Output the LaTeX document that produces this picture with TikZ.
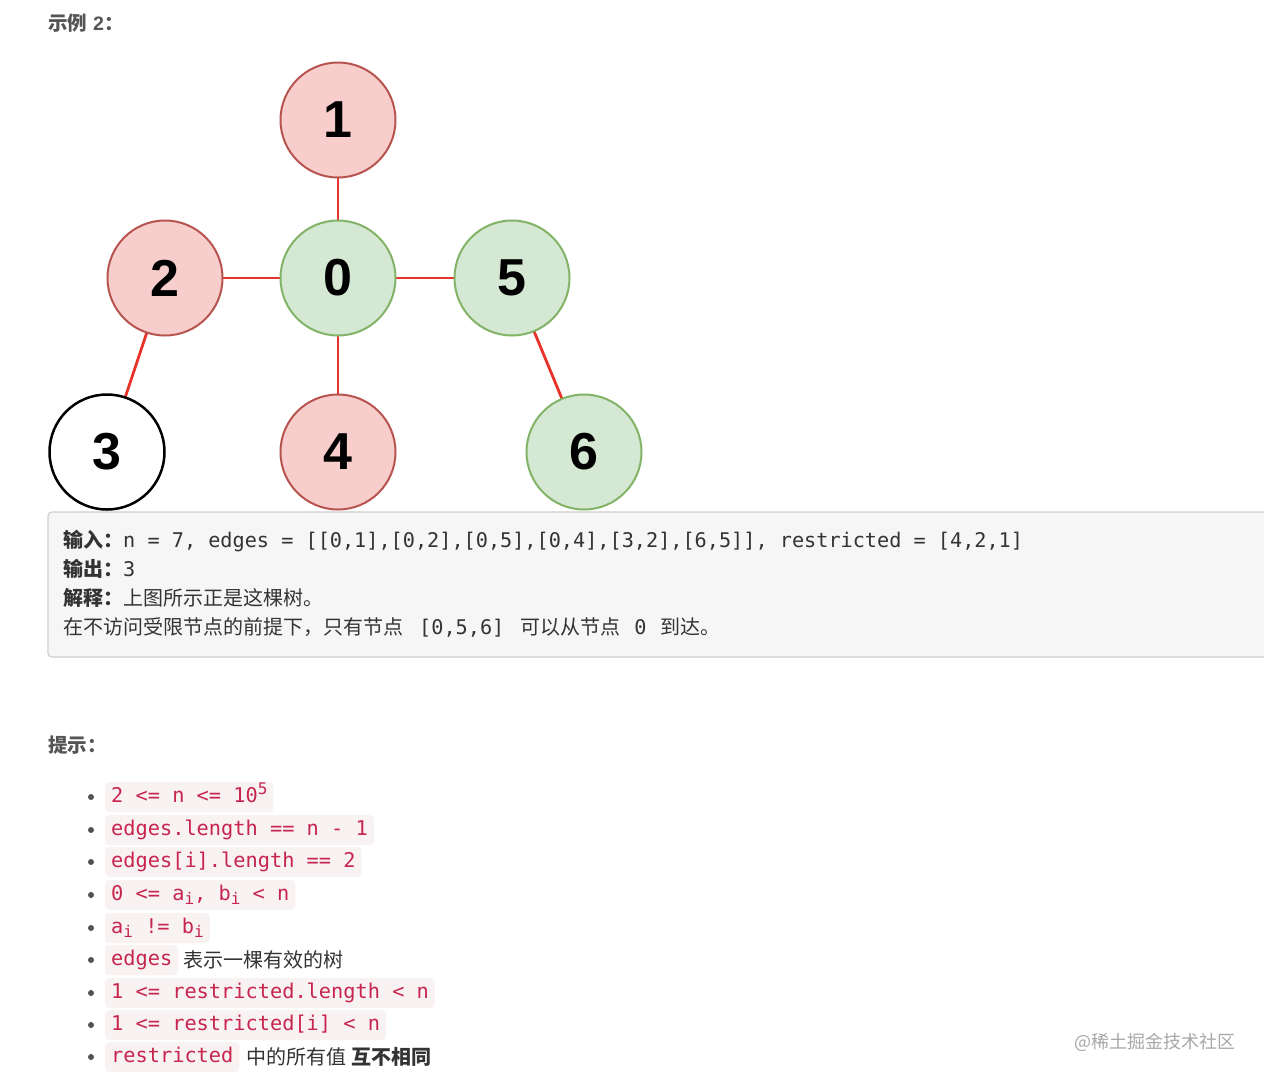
\documentclass[tikz,border=0pt]{standalone}
\usepackage{fontspec}
\newfontfamily\cjk{Noto Sans CJK SC}
\newfontfamily\mono{DejaVu Sans Mono}
\newfontfamily\digitfont{Liberation Sans}
\definecolor{redfill}{HTML}{F8CECC}
\definecolor{redline}{HTML}{B85450}
\definecolor{greenfill}{HTML}{D5E8D4}
\definecolor{greenline}{HTML}{82B366}
\definecolor{edgered}{HTML}{E8332A}
\definecolor{boxfill}{HTML}{F6F6F6}
\definecolor{boxline}{HTML}{CFCFCF}
\definecolor{codecol}{HTML}{C7254E}
\definecolor{codebg}{HTML}{F8F2F3}
\definecolor{headcol}{HTML}{555555}
\definecolor{txtcol}{HTML}{333333}
\definecolor{wmcol}{HTML}{A8A8A8}
\newcommand{\boxmono}{\mono\fontsize{20.2}{22}\selectfont}
\newcommand{\subi}{\raisebox{-4pt}{\fontsize{16}{16}\selectfont i}}
\begin{document}
\begin{tikzpicture}[x=1pt,y=-1pt,
  vnode/.style={circle,minimum size=115pt,inner sep=0pt,line width=2pt,
    font={\digitfont\bfseries\fontsize{52}{52}\selectfont}},
  rnode/.style={vnode,fill=redfill,draw=redline},
  gnode/.style={vnode,fill=greenfill,draw=greenline},
  wnode/.style={vnode,fill=white,draw=black,line width=2.5pt},
  conn/.style={draw=edgered,line width=2.8pt},
  head/.style={anchor=base west,inner sep=0pt,text=headcol,font={\cjk\bfseries\fontsize{19.5}{21}\selectfont}},
  boxtext/.style={anchor=base west,inner sep=0pt,text=txtcol,font={\cjk\fontsize{20}{22}\selectfont}},
  codebox/.style={anchor=west,fill=codebg,rounded corners=4pt,inner xsep=6pt,inner ysep=0pt,
    minimum height=30pt,text height=15pt,text depth=5pt,text=codecol,font={\mono\fontsize{20.3}{22}\selectfont}},
  ctext/.style={anchor=west,inner sep=0pt,text=txtcol,font={\cjk\fontsize{20}{22}\selectfont}},
  bul/.style={circle,fill=txtcol!85,inner sep=0pt,minimum size=6pt}
]
\useasboundingbox[fill=white] (0,0) rectangle (1264,1080);

\node[head] (title) at (48,30) {示例\hspace{6pt}{\digitfont\bfseries 2}：};

\coordinate (c1) at (338,120);
\coordinate (c0) at (338,278);
\coordinate (c2) at (165,278);
\coordinate (c5) at (512,278);
\coordinate (c3) at (107,452);
\coordinate (c4) at (338,452);
\coordinate (c6) at (584,452);
\draw[conn] (c1) -- (c0);
\draw[conn] (c2) -- (c0);
\draw[conn] (c0) -- (c5);
\draw[conn] (c0) -- (c4);
\draw[conn] (c2) -- (c3);
\draw[conn] (c5) -- (c6);

\node[rnode] (n1) at (c1) {1};
\node[gnode] (n0) at (c0) {0};
\node[rnode] (n2) at (c2) {2};
\node[gnode] (n5) at (c5) {5};
\node[wnode] (n3) at (c3) {3};
\node[rnode] (n4) at (c4) {4};
\node[gnode] (n6) at (c6) {6};

\draw[fill=boxfill,draw=boxline,line width=1.2pt,rounded corners=4pt] (48,512) rectangle (1275,657);
\node[boxtext] (l1) at (63,547) {\bfseries 输入：\boxmono\mdseries n = 7, edges = [[0,1],[0,2],[0,5],[0,4],[3,2],[6,5]], restricted = [4,2,1]};
\node[boxtext] (l2) at (63,576) {\bfseries 输出：\boxmono\mdseries 3};
\node[boxtext] (l3) at (63,605) {\bfseries 解释：\mdseries 上图所示正是这棵树。};
\node[boxtext] (l4) at (63,634) {在不访问受限节点的前提下，只有节点\hspace{16pt}{\boxmono [0,5,6]}\hspace{16pt}可以从节点\hspace{14pt}{\boxmono 0}\hspace{14pt}到达。};

\node[head] (hint) at (48,752) {提示：};

\foreach \yy [count=\k] in {797,830,862,895,928,960,993,1025,1057}
  \node[bul] (b\k) at (91,\yy) {};

\node[codebox] (k1) at (105,797) {2 <= n <= 10\raisebox{8pt}{\fontsize{16}{16}\selectfont 5}};
\node[codebox] (k2) at (105,830) {edges.length == n - 1};
\node[codebox] (k3) at (105,862) {edges[i].length == 2};
\node[codebox] (k4) at (105,895) {0 <= a\subi, b\subi{} < n};
\node[codebox] (k5) at (105,928) {a\subi{} != b\subi};
\node[codebox] (k6) at (105,960) {edges};
\node[ctext] (t6) at ([xshift=5pt]k6.east) {表示一棵有效的树};
\node[codebox] (k7) at (105,993) {1 <= restricted.length < n};
\node[codebox] (k8) at (105,1025) {1 <= restricted[i] < n};
\node[codebox] (k9) at (105,1057) {restricted};
\node[ctext] (t9) at ([xshift=7pt]k9.east) {中的所有值 {\bfseries 互不相同}};

\node[anchor=base east,inner sep=0pt,text=wmcol,font={\cjk\fontsize{18}{20}\selectfont}] (wm) at (1236,1048) {@稀土掘金技术社区};
\end{tikzpicture}
\end{document}
